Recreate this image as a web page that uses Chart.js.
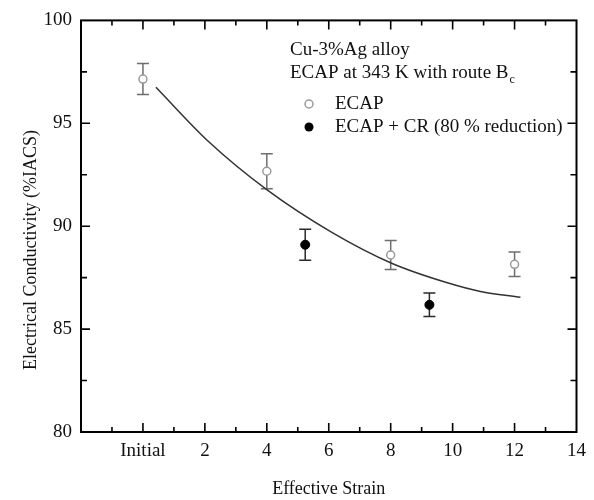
<!DOCTYPE html>
<html>
<head>
<meta charset="utf-8">
<script src="https://cdn.jsdelivr.net/npm/chart.js@4/dist/chart.umd.min.js"></script>
<style>
  html, body { margin: 0; padding: 0; background: #fff; }
  #wrap { width: 594px; height: 500px; }
</style>
</head>
<body>
<div id="wrap"><canvas id="chart" width="594" height="500"></canvas></div>
<script>
// ECAP samples (open circles)
const ecapStrain = [0, 4, 8, 12];
const ecapCond = [97.15, 92.67, 88.6, 88.15];
const ecapErr = [0.75, 0.85, 0.7, 0.6];

// ECAP + CR samples (filled circles)
const crStrain = [5.24, 9.25];
const crCond = [89.1, 86.18];
const crErr = [0.75, 0.57];

// fitted curve
const fitStrain = [0.42, 2.09, 4.02, 6.1, 8.03, 9.83, 10.9, 12.19];
const fitCond = [96.75, 94.15, 91.75, 89.7, 88.2, 87.25, 86.83, 86.55];

// axes
const xMin = -2, xMax = 14, xStep = 2;
const yMin = 80, yMax = 100, yStep = 5;
const xTickLabels = { 0: 'Initial' };

const serif = "'Liberation Serif', 'DejaVu Serif', serif";

const toPoints = (xs, ys) => xs.map((x, i) => ({ x: x, y: ys[i] }));

// error bars drawn under the markers
const errorBars = {
    id: 'errorBars',
    beforeDatasetsDraw(chart) {
        const { ctx, scales: { x, y } } = chart;
        const sets = [
            { xs: ecapStrain, ys: ecapCond, es: ecapErr, color: '#6e6e6e' },
            { xs: crStrain, ys: crCond, es: crErr, color: '#2a2a2a' }
        ];
        ctx.save();
        ctx.lineWidth = 1.5;
        sets.forEach(s => {
            ctx.strokeStyle = s.color;
            s.xs.forEach((v, i) => {
                const px = x.getPixelForValue(v);
                const top = y.getPixelForValue(s.ys[i] + s.es[i]);
                const bot = y.getPixelForValue(s.ys[i] - s.es[i]);
                ctx.beginPath();
                ctx.moveTo(px, top); ctx.lineTo(px, bot);
                ctx.moveTo(px - 6, top); ctx.lineTo(px + 6, top);
                ctx.moveTo(px - 6, bot); ctx.lineTo(px + 6, bot);
                ctx.stroke();
            });
        });
        ctx.restore();
    }
};

// frame, inward ticks, y title and the legend box
const decorations = {
    id: 'decorations',
    afterDraw(chart) {
        const { ctx, chartArea: a, scales: { x, y } } = chart;
        ctx.save();
        ctx.strokeStyle = '#000';
        ctx.lineWidth = 2;
        ctx.strokeRect(a.left, a.top, a.right - a.left, a.bottom - a.top);

        ctx.lineWidth = 1.6;
        ctx.beginPath();
        for (let v = xMin + 1; v < xMax; v += 1) {
            const px = x.getPixelForValue(v);
            const len = v % 2 === 0 ? 9 : 5;
            ctx.moveTo(px, a.bottom); ctx.lineTo(px, a.bottom - len);
            ctx.moveTo(px, a.top); ctx.lineTo(px, a.top + len);
        }
        for (let v = yMin + 2.5; v < yMax; v += 2.5) {
            const py = y.getPixelForValue(v);
            const len = v % 5 === 0 ? 9 : 6;
            ctx.moveTo(a.left, py); ctx.lineTo(a.left + len, py);
            ctx.moveTo(a.right, py); ctx.lineTo(a.right - len, py);
        }
        ctx.stroke();

        // y axis title
        ctx.fillStyle = '#111';
        ctx.font = '18px ' + serif;
        ctx.textAlign = 'center';
        ctx.textBaseline = 'middle';
        ctx.translate(31, 250);
        ctx.rotate(-Math.PI / 2);
        ctx.fillText('Electrical Conductivity (%IACS)', 0, 0);
        ctx.restore();

        // annotation and legend
        ctx.save();
        ctx.fillStyle = '#111';
        ctx.font = '19px ' + serif;
        ctx.textAlign = 'left';
        ctx.textBaseline = 'middle';
        ctx.fillText('Cu-3%Ag alloy', 290, 50);
        const line2 = 'ECAP at 343 K with route B';
        ctx.fillText(line2, 290, 73);
        const w2 = ctx.measureText(line2).width;
        ctx.font = '12px ' + serif;
        ctx.fillText('c', 290 + w2 + 1, 80);
        ctx.font = '19px ' + serif;
        ctx.fillText('ECAP', 335, 104);
        ctx.fillText('ECAP + CR (80 % reduction)', 335, 127);

        ctx.lineWidth = 1.5;
        ctx.strokeStyle = '#9a9a9a';
        ctx.fillStyle = '#fff';
        ctx.beginPath(); ctx.arc(309, 104, 4, 0, Math.PI * 2); ctx.fill(); ctx.stroke();
        ctx.fillStyle = '#000';
        ctx.beginPath(); ctx.arc(309, 127, 4.5, 0, Math.PI * 2); ctx.fill();
        ctx.restore();
    }
};

new Chart(document.getElementById('chart'), {
    type: 'scatter',
    data: {
        datasets: [
            {
                label: 'fit',
                data: toPoints(fitStrain, fitCond),
                showLine: true,
                borderColor: '#333',
                borderWidth: 1.5,
                pointRadius: 0,
                cubicInterpolationMode: 'monotone',
                order: 3
            },
            {
                label: 'ECAP',
                data: toPoints(ecapStrain, ecapCond),
                pointStyle: 'circle',
                pointRadius: 4,
                borderColor: '#9a9a9a',
                backgroundColor: '#fff',
                borderWidth: 1.5,
                order: 1
            },
            {
                label: 'ECAP + CR (80 % reduction)',
                data: toPoints(crStrain, crCond),
                pointStyle: 'circle',
                pointRadius: 4.5,
                borderColor: '#000',
                backgroundColor: '#000',
                borderWidth: 1,
                order: 2
            }
        ]
    },
    options: {
        responsive: false,
        animation: false,
        events: [],
        layout: { padding: { top: 19, right: 17, left: 0, bottom: 0 } },
        plugins: {
            legend: { display: false },
            tooltip: { enabled: false }
        },
        scales: {
            x: {
                type: 'linear',
                min: xMin,
                max: xMax,
                grid: { display: false, drawTicks: false },
                border: { display: false },
                ticks: {
                    stepSize: xStep,
                    autoSkip: false,
                    maxRotation: 0,
                    padding: 8,
                    color: '#111',
                    font: { family: serif, size: 19 },
                    callback: v => (v in xTickLabels ? xTickLabels[v] : (v <= xMin ? '' : String(v)))
                },
                title: {
                    display: true,
                    text: 'Effective Strain',
                    color: '#111',
                    font: { family: serif, size: 18 },
                    padding: { top: 14, bottom: 0 }
                },
                afterFit: s => { s.height = 68; }
            },
            y: {
                type: 'linear',
                min: yMin,
                max: yMax,
                grid: { display: false, drawTicks: false },
                border: { display: false },
                ticks: {
                    stepSize: yStep,
                    padding: 9,
                    color: '#111',
                    font: { family: serif, size: 19 }
                },
                afterFit: s => { s.width = 81; }
            }
        }
    },
    plugins: [errorBars, decorations]
});
</script>
</body>
</html>
